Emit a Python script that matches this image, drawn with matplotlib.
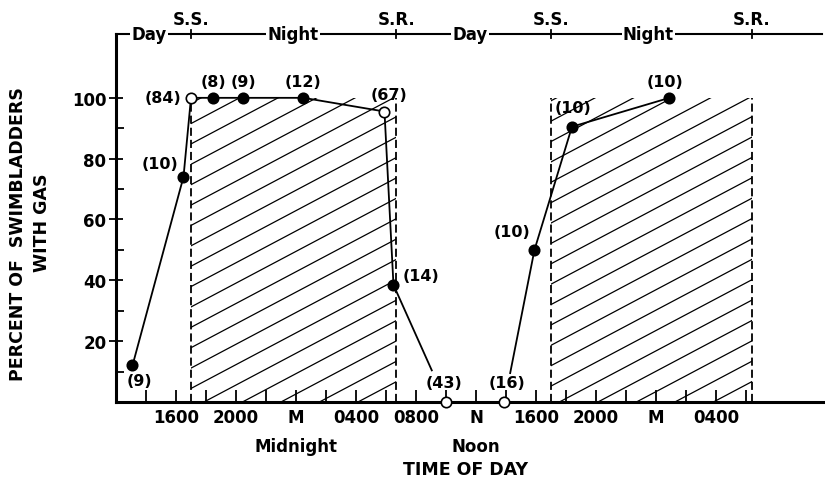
import numpy as np
import matplotlib
matplotlib.use("Agg")
import matplotlib.pyplot as plt
from matplotlib.patches import Rectangle

plt.rcParams['font.family'] = ['DejaVu Sans']
plt.rcParams['font.weight'] = 'bold'

# time axis in hours, counted from noon of day 1 (12 = noon, 24 = midnight ...)
hours = [13.1, 16.5, 17.0, 18.5, 20.5, 24.5, 29.9, 30.5, 34.0, 37.9, 39.9, 42.4, 48.9]
pct_gas = [12, 74, 100, 100, 100, 100, 95.5, 38.5, 0, 0, 50, 90.5, 100]
n_fish = [9, 10, 84, 8, 9, 12, 67, 14, 43, 16, 10, 10, 10]
open_marker = [False, False, True, False, False, False, True, False, True, True, False, False, False]

# night periods (sunset, sunrise)
nights = [(17.0, 30.7), (41.0, 54.4)]

tick_hours = list(range(14, 56, 2))
tick_names = {16: '1600', 20: '2000', 24: 'M', 28: '0400', 32: '0800', 36: 'N',
              40: '1600', 44: '2000', 48: 'M', 52: '0400'}

banner_words = [(14.2, 'Day'), (23.8, 'Night'), (35.6, 'Day'), (47.5, 'Night')]

# label offsets (points) for the sample sizes
label_offsets = [(5, -11), (-17, 10), (-20, 0), (0, 11.5), (0, 11.5), (0, 12),
                 (3, 12), (20, 6.5), (-1.5, 14), (1.5, 14), (-16, 13), (0.5, 14), (-3, 12)]

XMIN, XMAX = 12, 59.27
YTOP = 121

fig = plt.figure(figsize=(8.25, 4.89), dpi=100)
ax = fig.add_axes([0.1406, 0.1759, 0.8594, 0.7526])
ax.set_xlim(XMIN, XMAX)
ax.set_ylim(0, YTOP)

for s in ['top', 'right']:
    ax.spines[s].set_visible(False)
ax.spines['left'].set_linewidth(2.2)
ax.spines['bottom'].set_linewidth(2.2)

# shaded night periods with slanted hatching
slope = 2.61  # percent per hour
for x0, x1 in nights:
    clip = Rectangle((x0, 0), x1 - x0, 100, transform=ax.transData, fill=False, lw=0)
    ax.add_patch(clip)
    for c in np.arange(-slope * (x1 - x0), 100, 6.7):
        ln, = ax.plot([x0, x1], [c, c + slope * (x1 - x0)], color='black', lw=0.9)
        ln.set_clip_path(clip)
    ax.plot([x0, x0], [0, 100], color='black', lw=1.3, ls=(0, (4.5, 2.2)))
    ax.plot([x1, x1], [0, 100], color='black', lw=1.3, ls=(0, (4.5, 2.2)))

# connecting lines
ax.plot(hours[:8], pct_gas[:8], color='black', lw=1.3, zorder=3)
ax.plot(hours[10:], pct_gas[10:], color='black', lw=1.3, zorder=3)
# leader lines ending at the labels of the zero points
f = 0.73
ax.plot([hours[7], hours[7] + f * (hours[8] - hours[7])],
        [pct_gas[7], pct_gas[7] + f * (pct_gas[8] - pct_gas[7])], color='black', lw=1.3)
f = 0.19
ax.plot([hours[9] + f * (hours[10] - hours[9]), hours[10]],
        [pct_gas[9] + f * (pct_gas[10] - pct_gas[9]), pct_gas[10]], color='black', lw=1.3)

for h, p, n, o, off in zip(hours, pct_gas, n_fish, open_marker, label_offsets):
    ax.plot(h, p, 'o', ms=7.5, mfc='white' if o else 'black', mec='black', mew=1.2,
            zorder=5, clip_on=False)
    ax.annotate(f'({n})', (h, p), xytext=off, textcoords='offset points',
                ha='center', va='center', fontsize=11.5)

# axes ticks
ax.set_xticks(tick_hours)
ax.set_xticklabels([tick_names.get(t, '') for t in tick_hours], fontsize=12)
ax.tick_params(axis='x', direction='in', length=9, width=1.3, pad=4)
ax.set_yticks([20, 40, 60, 80, 100])
ax.set_yticks([10, 30, 50, 70, 90], minor=True)
ax.set_yticklabels(['20', '40', '60', '80', '100'], fontsize=12)
ax.tick_params(axis='y', which='major', direction='inout', length=10, width=1.3, pad=2)
ax.tick_params(axis='y', which='minor', direction='in', length=6, width=1.3)

ax.text(24, -14.4, 'Midnight', ha='center', va='center', fontsize=12)
ax.text(36, -14.4, 'Noon', ha='center', va='center', fontsize=12)
ax.text(35.3, -22, 'TIME OF DAY', ha='center', va='center', fontsize=12.5)
fig.text(0.022, 0.521, 'PERCENT OF  SWIMBLADDERS', rotation=90, ha='center', va='center',
         fontsize=12.5)
fig.text(0.051, 0.544, 'WITH GAS', rotation=90, ha='center', va='center', fontsize=12.5)

# day / night banner along the top
ax.plot([XMIN, 59.07], [YTOP, YTOP], color='black', lw=1.5, clip_on=False)
for x, w in banner_words:
    ax.text(x, YTOP, w, ha='center', va='center', fontsize=12,
            bbox=dict(facecolor='white', edgecolor='none', pad=1.0))
for x0, x1 in nights:
    for x, lab in [(x0, 'S.S.'), (x1, 'S.R.')]:
        ax.plot([x, x], [YTOP - 1.2, YTOP + 1.2], color='black', lw=1.3, clip_on=False)
        ax.text(x, YTOP + 5, lab, ha='center', va='center', fontsize=12)

fig.savefig('out.png', dpi=100)
